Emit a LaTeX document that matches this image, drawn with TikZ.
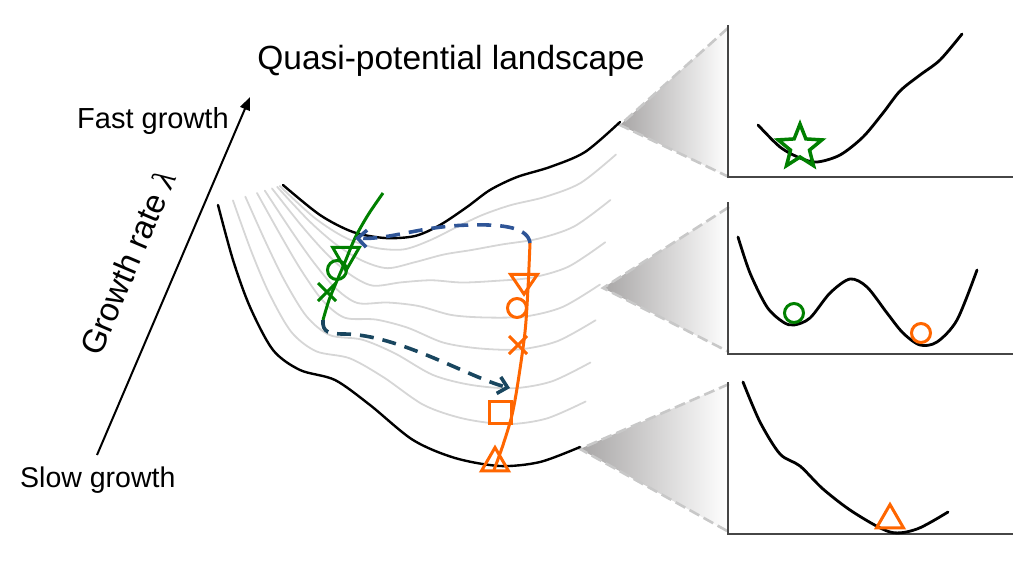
\documentclass[tikz,border=0pt]{standalone}
\usepackage{fontspec}
\setmainfont{Liberation Sans}
\newfontfamily\lamfont{Liberation Serif}
\usetikzlibrary{arrows.meta,calc,shapes.geometric,shapes.misc}
\definecolor{lgreen}{RGB}{0,128,0}
\definecolor{lorange}{RGB}{255,102,0}
\definecolor{dblue}{RGB}{47,85,151}
\definecolor{dteal}{RGB}{25,70,95}
\definecolor{gline}{RGB}{214,214,214}
\definecolor{edgegray}{RGB}{200,200,200}
\definecolor{shadegray}{RGB}{168,166,166}
\definecolor{axisgray}{RGB}{70,70,70}
\tikzset{
  blackcurve/.style={line width=2.4pt, black, line cap=round},
  graycurve/.style={line width=1.8pt, gline, line cap=round},
  edgedash/.style={line width=2.6pt, edgegray, dash pattern=on 11pt off 5pt},
  axisline/.style={line width=1.6pt, axisgray},
  pcurve/.style={line width=2.8pt, black, line cap=round},
  gpath/.style={line width=3pt, lgreen},
  opath/.style={line width=3pt, lorange},
  bluedash/.style={line width=3.6pt, dblue, dash pattern=on 14pt off 9pt, -{Straight Barb[length=9pt,width=17pt,line width=3.6pt]}},
  tealdash/.style={line width=3.6pt, dteal, dash pattern=on 14pt off 9pt, -{Straight Barb[length=9pt,width=17pt,line width=3.6pt]}},
  mcirc/.style={circle, draw, line width=3pt, minimum size=19pt, inner sep=0pt},
  mtri/.style={regular polygon, regular polygon sides=3, draw, line width=3pt, minimum size=31pt, inner sep=0pt},
  mitri/.style={mtri, shape border rotate=180},
  mcross/.style={cross out, draw, line width=3pt, minimum size=15pt, inner sep=0pt},
  msq/.style={rectangle, draw, line width=3pt, minimum size=22pt, inner sep=0pt},
  mstar/.style={star, star points=5, star point ratio=2.3, draw, line width=3.5pt, minimum size=46pt, inner sep=0pt},
  lbl/.style={inner sep=0pt, text=black}
}
\begin{document}
\begin{tikzpicture}[x=1pt,y=-1pt]
\useasboundingbox (0,0) rectangle (1024,579);

% ---------- zoom wedges ----------
\coordinate (w1a) at (620,125); \coordinate (w1t) at (728,28); \coordinate (w1b) at (729,177);
\coordinate (w2a) at (603,288); \coordinate (w2t) at (729,207); \coordinate (w2b) at (729,352);
\coordinate (w3a) at (580,449); \coordinate (w3t) at (729,384); \coordinate (w3b) at (729,532);
\foreach \w in {1,2,3}{
  \shade[left color=shadegray, right color=white] (w\w a) -- (w\w t) -- (w\w b) -- cycle;
  \draw[edgedash] (w\w t) -- (w\w a) -- (w\w b);
}

% ---------- panel axes ----------
\draw[axisline] (728,25) -- (728,177) -- (1013,177);
\draw[axisline] (728,202) -- (728,354) -- (1013,354);
\draw[axisline] (728,382) -- (728,534) -- (1013,534);

% ---------- panel curves ----------
\draw[pcurve] plot[smooth] coordinates {(758,125) (780,147) (800,158) (817,162) (840,155) (863,137) (883,113) (900,91) (920,75) (940,60) (962,34)};
\draw[pcurve] plot[smooth] coordinates {(738,237) (750,273) (767,307) (783,322) (794,325) (810,318) (830,293) (850,279) (867,287) (887,313) (903,333) (920,345) (937,342) (957,320) (977,270)};
\draw[pcurve] plot[smooth] coordinates {(743,382) (760,422) (780,454) (800,466) (823,489) (853,512) (890,532) (917,529) (948,512)};

\node[mstar, lgreen] (pstar) at (800,147) {};
\node[mcirc, lgreen] (pgc) at (794,313) {};
\node[mcirc, lorange] (poc) at (921,333) {};
\node[mtri, lorange] (ptri) at (890,520) {};

% ---------- landscape ----------
\coordinate (T1) at (283,185);  \coordinate (B1) at (218,205);
\coordinate (T2) at (320,215);  \coordinate (B2) at (233,260);
\coordinate (T3) at (353,232);  \coordinate (B3) at (250,307);
\coordinate (T4) at (385,238);  \coordinate (B4) at (273,350);
\coordinate (T5) at (415,236);  \coordinate (B5) at (300,370);
\coordinate (T6) at (440,225);  \coordinate (B6) at (335,380);
\coordinate (T7) at (467,207);  \coordinate (B7) at (370,405);
\coordinate (T8) at (490,190);  \coordinate (B8) at (413,440);
\coordinate (T9) at (517,177);  \coordinate (B9) at (455,458);
\coordinate (T10) at (550,167); \coordinate (B10) at (500,466);
\coordinate (T11) at (585,152); \coordinate (B11) at (540,462);
\coordinate (T12) at (620,122); \coordinate (B12) at (580,447);

\foreach \tl/\tr in {0.05/0.10,0.09/0.24,0.17/0.37,0.28/0.50,0.40/0.61,0.58/0.74,0.77/0.86}{
  \foreach \i in {1,...,12}{
    \pgfmathsetmacro\myt{\tl+(\tr-\tl)*min(1,(\i-1)/4)}
    \coordinate (G\i) at ($(T\i)!\myt!(B\i)$);
  }
  \draw[graycurve] plot[smooth] coordinates {(G1) (G2) (G3) (G4) (G5) (G6) (G7) (G8) (G9) (G10) (G11) (G12)};
}

\draw[blackcurve] plot[smooth] coordinates {(T1) (T2) (T3) (T4) (T5) (T6) (T7) (T8) (T9) (T10) (T11) (T12)};
\draw[blackcurve] plot[smooth] coordinates {(B1) (B2) (B3) (B4) (B5) (B6) (B7) (B8) (B9) (B10) (B11) (B12)};

% ---------- trajectories ----------
\coordinate (gtop) at (383,193);
\coordinate (gend) at (323,320);
\coordinate (otop) at (530,243);
\coordinate (oend) at (494,470);
\coordinate (btip) at (355,238);
\coordinate (ttip) at (510,388);

\draw[gpath] plot[smooth] coordinates {(gtop) (368,215) (355,238) (345,262) (336,283) (329,300) (gend)};
\draw[opath] plot[smooth] coordinates {(otop) (528,288) (525,332) (518,382) (512,415) (503,445) (oend)};

\draw[tealdash] (gend) .. controls (322,333) and (330,334) .. (345,334) .. controls (400,335) and (470,378) .. (ttip);
\draw[bluedash] (otop) .. controls (528,228) and (505,224) .. (470,225) .. controls (420,226) and (390,240) .. (btip);

% green markers
\node[mitri, lgreen] (gtri) at (346,255) {};
\node[mcirc, lgreen] (gcirc) at (337,270) {};
\node[mcross, lgreen] (gx) at (327,292) {};
% orange markers
\node[mitri, lorange, yscale=0.85] (otri) at (524,281) {};
\node[mcirc, lorange] (ocirc) at (517,308) {};
\node[mcross, lorange] (ox) at (518,345) {};
\node[msq, lorange] (osq) at (500,412) {};
\node[mtri, lorange] (otriu) at (495,463) {};

% ---------- axis and labels ----------
\coordinate (ax0) at (97,455);
\coordinate (ax1) at (250,97);
\draw[line width=2pt, -{Triangle[length=13pt,width=10pt]}] (ax0) -- (ax1);

\node[lbl, anchor=base, font=\fontsize{33.5}{40}\selectfont] (title) at (451,69) {Quasi-potential landscape};
\node[lbl, anchor=base west, font=\fontsize{29}{34}\selectfont] (fast) at (77,128) {Fast growth};
\node[lbl, anchor=base west, font=\fontsize{28.5}{34}\selectfont] (slow) at (20,487) {Slow growth};
\node[lbl, anchor=base west, rotate=66.9, font=\fontsize{33}{38}\selectfont] (rate) at (100,358) {Growth rate {\lamfont\itshape λ}};
\end{tikzpicture}
\end{document}
